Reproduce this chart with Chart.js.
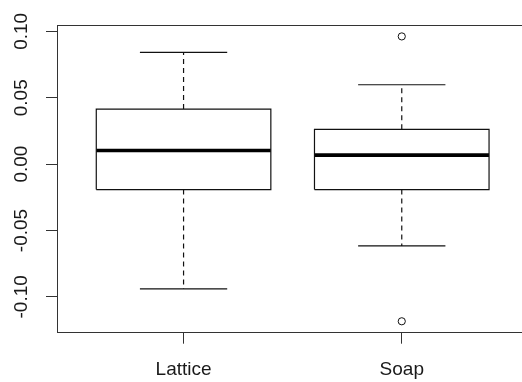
<!DOCTYPE html>
<html>
<head>
<meta charset="utf-8">
<script src="https://cdn.jsdelivr.net/npm/chart.js@4/dist/chart.umd.min.js"></script>
<style>
  html, body { margin: 0; padding: 0; background: #fff; overflow: hidden; }
  canvas { display: block; }
</style>
</head>
<body>
<canvas id="chart" width="522" height="382"></canvas>
<script>
// Five-number summaries per group, plus points beyond the whiskers
const categories    = ['Lattice', 'Soap'];
const lowerWhisker  = [-0.0940, -0.0616];
const lowerQuartile = [-0.0192, -0.0192];
const medians       = [ 0.0103,  0.0068];
const upperQuartile = [ 0.0415,  0.0262];
const upperWhisker  = [ 0.0842,  0.0598];
const outliers      = [[], [0.0962, -0.1184]];
const yTickValues   = [-0.10, -0.05, 0.00, 0.05, 0.10];

const INK = '#111111';
const AXIS = '#333333';
const FONT = { family: '"Liberation Sans", Arial, sans-serif', size: 19 };
const BOX_HALF = 0.4;
const CAP_HALF = 0.2;
const X_MIN = 0.42, X_MAX = 2.551;
const Y_MIN = -0.127, Y_MAX = 0.1048;

function segment(points, extra) {
  return Object.assign({
    type: 'line',
    data: points,
    borderColor: INK,
    borderWidth: 1.2,
    pointRadius: 0,
    pointHoverRadius: 0,
    fill: false,
    tension: 0
  }, extra || {});
}

const datasets = [];
categories.forEach((name, i) => {
  const x = i + 1;
  // dashed whiskers
  datasets.push(segment([{ x, y: upperQuartile[i] }, { x, y: upperWhisker[i] }], { borderDash: [5, 4] }));
  datasets.push(segment([{ x, y: lowerQuartile[i] }, { x, y: lowerWhisker[i] }], { borderDash: [5, 4] }));
  // whisker caps
  datasets.push(segment([{ x: x - CAP_HALF, y: upperWhisker[i] }, { x: x + CAP_HALF, y: upperWhisker[i] }]));
  datasets.push(segment([{ x: x - CAP_HALF, y: lowerWhisker[i] }, { x: x + CAP_HALF, y: lowerWhisker[i] }]));
  // the box from lower to upper quartile
  datasets.push(segment([
    { x: x - BOX_HALF, y: lowerQuartile[i] },
    { x: x + BOX_HALF, y: lowerQuartile[i] },
    { x: x + BOX_HALF, y: upperQuartile[i] },
    { x: x - BOX_HALF, y: upperQuartile[i] },
    { x: x - BOX_HALF, y: lowerQuartile[i] }
  ]));
  // median bar
  datasets.push(segment([{ x: x - BOX_HALF, y: medians[i] }, { x: x + BOX_HALF, y: medians[i] }],
    { borderWidth: 3.6, borderColor: '#000' }));
  // outlying points
  datasets.push({
    type: 'scatter',
    data: outliers[i].map(y => ({ x, y })),
    pointStyle: 'circle',
    pointRadius: 3.6,
    pointHoverRadius: 3.6,
    pointBorderWidth: 1,
    pointBackgroundColor: '#fff',
    pointBorderColor: INK,
    showLine: false
  });
});

new Chart(document.getElementById('chart'), {
  type: 'scatter',
  data: { datasets },
  options: {
    responsive: false,
    animation: false,
    events: [],
    layout: { autoPadding: false, padding: { top: 25, right: 0, bottom: 0, left: 0 } },
    plugins: { legend: { display: false }, tooltip: { enabled: false } },
    scales: {
      x: {
        type: 'linear',
        position: 'bottom',
        min: X_MIN,
        max: X_MAX,
        afterBuildTicks: s => { s.ticks = categories.map((_, i) => ({ value: i + 1 })); },
        afterFit: s => { s.height = 49.3; s.paddingLeft = 0; s.paddingRight = 0; },
        ticks: {
          callback: v => categories[v - 1] ?? '',
          font: FONT,
          color: '#1a1a1a',
          padding: 15,
          autoSkip: false,
          maxRotation: 0,
          minRotation: 0
        },
        grid: { drawOnChartArea: false, drawTicks: true, tickLength: 11, color: AXIS, lineWidth: 1 },
        border: { display: true, color: AXIS, width: 1 }
      },
      xTop: {
        type: 'linear',
        position: 'top',
        min: X_MIN,
        max: X_MAX,
        display: true,
        afterFit: s => { s.height = 0; s.paddingLeft = 0; s.paddingRight = 0; },
        ticks: { display: false },
        grid: { display: false, drawTicks: false },
        border: { display: true, color: AXIS, width: 1 }
      },
      y: {
        type: 'linear',
        position: 'left',
        min: Y_MIN,
        max: Y_MAX,
        afterBuildTicks: s => { s.ticks = yTickValues.map(v => ({ value: v })); },
        afterFit: s => { s.width = 57; s.paddingTop = 0; s.paddingBottom = 0; },
        ticks: {
          callback: v => Number(v).toFixed(2),
          font: FONT,
          color: '#1a1a1a',
          minRotation: 90,
          maxRotation: 90,
          crossAlign: 'center',
          padding: 3,
          autoSkip: false
        },
        grid: { drawOnChartArea: false, drawTicks: true, tickLength: 11, color: AXIS, lineWidth: 1 },
        border: { display: true, color: AXIS, width: 1 }
      }
    }
  }
});
</script>
</body>
</html>
